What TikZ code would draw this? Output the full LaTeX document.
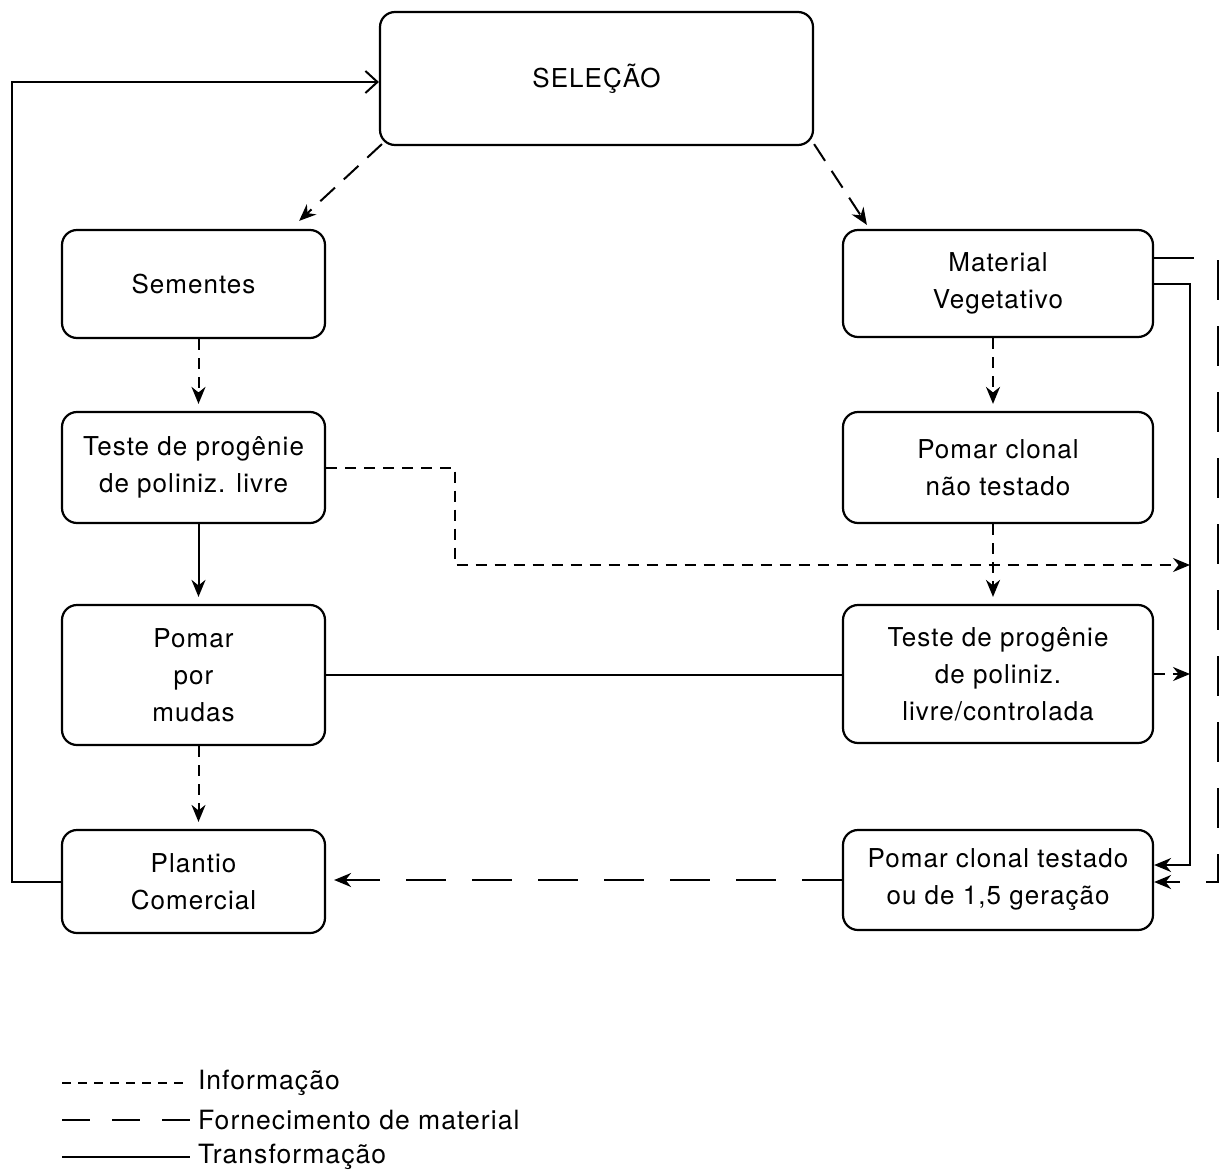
\documentclass[tikz,border=0pt]{standalone}
\usepackage{fontspec}
\setmainfont[LetterSpace=4]{TeX Gyre Heros}
\usetikzlibrary{arrows.meta,calc}

\tikzset{
  box/.style={draw, line width=2.2pt, rounded corners=15pt, align=center,
    inner sep=0pt, font=\fontsize{26}{37}\selectfont},
  trans/.style={line width=2pt},
  info/.style={line width=2pt, dash pattern=on 11pt off 8pt},
  supply/.style={line width=2pt, dash pattern=on 40pt off 26pt},
  supplyshort/.style={line width=2pt, dash pattern=on 20pt off 12pt},
  tip/.style={-{Stealth[length=17pt,width=14pt]}},
  legtext/.style={anchor=west, inner sep=0pt, font=\fontsize{26.5}{30}\selectfont}
}

\begin{document}
\begin{tikzpicture}[x=1pt,y=-1pt]
\useasboundingbox (0,0) rectangle (1228,1174);

% boxes
\node[box, minimum width=433pt, minimum height=133pt] (sel) at (596.5,78.5) {SELEÇÃO};
\node[box, minimum width=263pt, minimum height=108pt] (sem) at (193.5,284) {Sementes};
\node[box, minimum width=310pt, minimum height=107pt] (mat) at (998,283.5) {Material\\Vegetativo};
\node[box, minimum width=263pt, minimum height=111pt] (tpl) at (193.5,467.5) {Teste de progênie\\de poliniz. livre};
\node[box, minimum width=310pt, minimum height=111pt] (pcn) at (998,467.5) {Pomar clonal\\não testado};
\node[box, minimum width=263pt, minimum height=140pt] (pmu) at (193.5,675) {Pomar\\por\\mudas};
\node[box, minimum width=310pt, minimum height=138pt] (tpc) at (998,674) {Teste de progênie\\de poliniz.\\livre/controlada};
\node[box, minimum width=263pt, minimum height=103pt] (plc) at (193.5,881.5) {Plantio\\Comercial};
\node[box, minimum width=310pt, minimum height=100pt] (pct) at (998,880) {Pomar clonal testado\\ou de 1,5 geração};

% routing points
\coordinate (fb) at (12,82);
\coordinate (k1) at (455,565);
\coordinate (bus) at (1190,565);
\coordinate (t1) at (1190,865);
\coordinate (m1) at (1218,258);
\coordinate (m2) at (1218,882);

% feedback to selection
\draw[trans, -{Straight Barb[length=12pt,width=22pt]}] (plc.west) -| (fb) -- (fb -| sel.west);

% selection to seeds and vegetative material
\draw[supplyshort, tip] ($(sel.south west)+(3,-2)$) -- ($(sem.north east)+(-27,-8)$);
\draw[supplyshort, tip] ($(sel.south east)+(0,-2)$) -- ($(mat.north west)+(25,-4)$);

% left column
\draw[info, tip, shorten >=7pt] ([xshift=5pt]sem.south) -- ([xshift=5pt]tpl.north);
\draw[trans, tip, shorten >=7pt] ([xshift=5pt]tpl.south) -- ([xshift=5pt]pmu.north);
\draw[info, tip, shorten >=7pt] ([xshift=5pt]pmu.south) -- ([xshift=5pt]plc.north);

% right column
\draw[info, tip, shorten >=7pt] ([xshift=-5pt]mat.south) -- ([xshift=-5pt]pcn.north);
\draw[info, tip, shorten >=7pt] ([xshift=-5pt]pcn.south) -- ([xshift=-5pt]tpc.north);

% cross links
\draw[trans] (pmu.east) -- (tpc.west |- pmu.east);
\draw[info, tip] (tpl.east) -| (k1) -- (bus);
\draw[info, tip] (tpc.east) -- (tpc.east -| bus);
\draw[trans, tip] (mat.east) -| (t1) -- (t1 -| pct.east);
\draw[supply, tip] (mat.east |- m1) -- (m1) -- (m2) -- (m2 -| pct.east);
\draw[supply, tip, shorten >=8pt] (pct.west) -- (plc.east |- pct.west);

% legend
\coordinate (l1) at (62,1083);
\coordinate (l2) at (62,1120);
\coordinate (l3) at (62,1157);
\draw[info, dash pattern=on 9pt off 7pt] (l1) -- ++(128,0) node[legtext, xshift=7pt] (lt1) {Informação};
\draw[supply, dash pattern=on 28pt off 22pt] (l2) -- ++(128,0) node[legtext, xshift=7pt] (lt2) {Fornecimento de material};
\draw[trans] (l3) -- ++(128,0) node[legtext, xshift=7pt] (lt3) {Transformação};
\end{tikzpicture}
\end{document}
